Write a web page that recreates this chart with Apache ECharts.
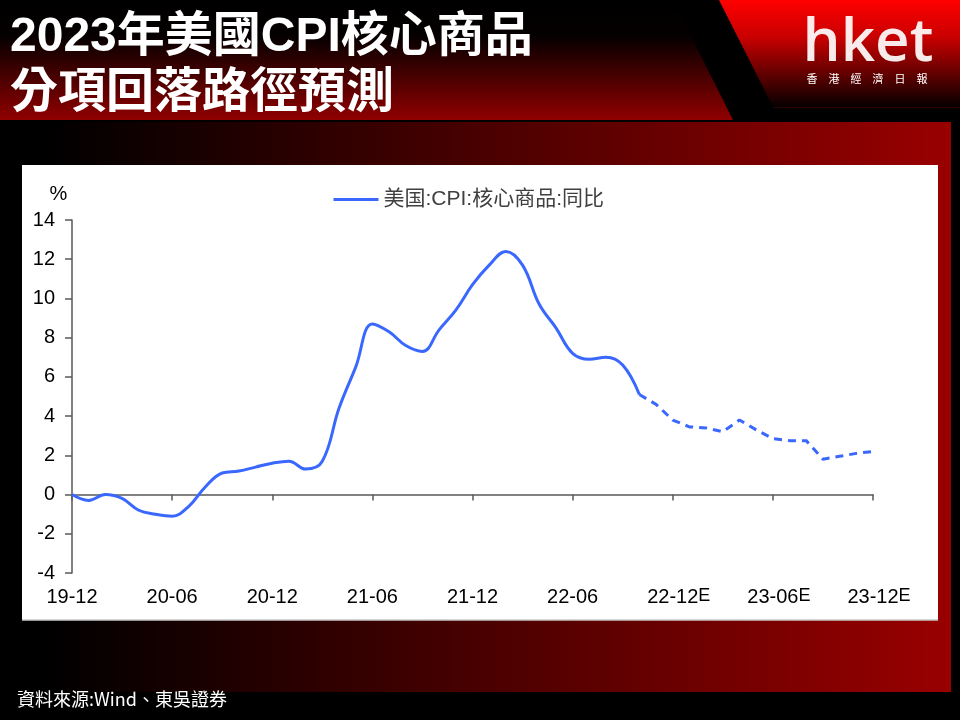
<!DOCTYPE html>
<html>
<head>
<meta charset="utf-8">
<script src="https://cdn.jsdelivr.net/npm/echarts@6/dist/echarts.min.js"></script>
<style>
html,body{margin:0;padding:0;background:#000;}
#c{width:960px;height:720px;}
</style>
</head>
<body>
<div id="c"></div>
<script>
// ---------- data ----------
const months = [
  '19-12',
  '20-01','20-02','20-03','20-04','20-05','20-06','20-07','20-08','20-09','20-10','20-11','20-12',
  '21-01','21-02','21-03','21-04','21-05','21-06','21-07','21-08','21-09','21-10','21-11','21-12',
  '22-01','22-02','22-03','22-04','22-05','22-06','22-07','22-08','22-09','22-10','22-11','22-12',
  '23-01','23-02','23-03','23-04','23-05','23-06','23-07','23-08','23-09','23-10','23-11','23-12'
];
// actual: 19-12 .. 22-10
const actualValues = [
  0.0,
  -0.3, 0.0, -0.2, -0.8, -1.0, -1.1, -0.6, 0.4, 1.1, 1.2, 1.4, 1.6,
  1.7, 1.3, 1.7, 4.4, 6.5, 8.7, 8.3, 7.6, 7.3, 8.4, 9.4, 10.7,
  11.7, 12.4, 11.7, 9.7, 8.5, 7.2, 6.9, 7.0, 6.6, 5.1
];
// forecast: 22-10 .. 23-12
const forecastMonths = ['22-10','22-11','22-12','23-01','23-02','23-03','23-04','23-05','23-06','23-07','23-08','23-09','23-10','23-11','23-12'];
const forecastValues = [5.1, 4.6, 3.8, 3.45, 3.4, 3.2, 3.8, 3.3, 2.85, 2.75, 2.75, 1.8, 1.95, 2.1, 2.2];
const estimateLabels = ['22-12','23-06','23-12'];
const titleLines = ['2023年美國CPI核心商品', '分項回落路徑預測'];
const seriesName = '美国:CPI:核心商品:同比';
const yUnit = '%';
const sourceText = '資料來源:Wind、東吳證券';
const logoText = 'hket';
const logoSub = '香　港　經　濟　日　報';

// ---------- chart ----------
const chart = echarts.init(document.getElementById('c'));
const LAT = "'Liberation Sans', Arial, 'Noto Sans CJK SC', sans-serif";
const CJK = "'Liberation Sans', 'Noto Sans CJK TC', sans-serif";
const blue = '#3a68ff';
const axisGrey = '#595959';

const option = {
  backgroundColor: '#000',
  animation: false,
  title: {
    text: titleLines.join('\n'),
    left: 5,
    top: 5,
    textStyle: {
      color: '#fff', fontSize: 48, fontWeight: 'bold', lineHeight: 56,
      fontFamily: CJK
    }
  },
  graphic: [
    // header left
    { type: 'polygon', z: 0, shape: { points: [[0,0],[673,0],[733,120],[0,120]] },
      style: { fill: new echarts.graphic.LinearGradient(0,0,0,1,[
        {offset:0,color:'#000'},{offset:0.3,color:'#050000'},{offset:1,color:'#900000'}]) } },
    // header right (logo background)
    { type: 'polygon', z: 0, shape: { points: [[719,0],[960,0],[960,107],[773,107]] },
      style: { fill: new echarts.graphic.LinearGradient(0,0,0,1,[
        {offset:0,color:'#ff0000'},{offset:0.35,color:'#c80000'},{offset:1,color:'#050000'}]) } },
    { type: 'line', z: 0, shape: { x1: 773, y1: 107.5, x2: 960, y2: 107.5 },
      style: { stroke: '#2a0000', lineWidth: 1 } },
    // main panel gradient
    { type: 'rect', z: 0, shape: { x: 0, y: 122, width: 951, height: 570 },
      style: { fill: new echarts.graphic.LinearGradient(0,0,1,0,[
        {offset:0,color:'#000'},{offset:0.05,color:'#000'},{offset:1,color:'#990000'}]) } },
    // white chart panel
    { type: 'rect', z: 0, shape: { x: 22, y: 165, width: 916, height: 455 },
      style: { fill: '#fff' } },
    { type: 'line', z: 0, shape: { x1: 22, y1: 620, x2: 938, y2: 620 },
      style: { stroke: '#c8c8c8', lineWidth: 1.5 } },
    // logo
    { type: 'text', z: 1, x: 868, y: 44,
      style: { text: logoText, fill: 'rgba(255,255,255,0.92)', font: "600 60px 'Open Sans', sans-serif",
        textAlign: 'center', textVerticalAlign: 'middle' } },
    { type: 'text', z: 1, x: 867, y: 79,
      style: { text: logoSub, fill: '#fff', font: "11px 'Noto Sans CJK TC', sans-serif",
        textAlign: 'center', textVerticalAlign: 'middle' } },
    // source
    { type: 'text', z: 1, x: 17, y: 699,
      style: { text: sourceText, fill: '#fff', font: "18px 'Noto Sans CJK TC', sans-serif",
        textAlign: 'left', textVerticalAlign: 'middle' } }
  ],
  legend: {
    data: [seriesName],
    left: 332,
    top: 189,
    padding: 0,
    itemWidth: 45,
    itemHeight: 14,
    itemGap: 6,
    itemStyle: { opacity: 0 },
    lineStyle: { color: blue, width: 3 },
    textStyle: { fontSize: 21, color: '#404040', fontFamily: LAT }
  },
  grid: { left: 72, right: 87, top: 220, bottom: 147, containLabel: false },
  xAxis: [
    {
      type: 'category', data: months, boundaryGap: false, position: 'bottom',
      axisLine: { onZero: true, lineStyle: { color: axisGrey, width: 1.5 } },
      axisTick: { show: true, interval: 5, length: 6, lineStyle: { color: axisGrey, width: 1.5 } },
      axisLabel: { show: false },
      splitLine: { show: false }
    },
    {
      type: 'category', data: months, boundaryGap: false, position: 'bottom',
      axisLine: { show: false, onZero: false },
      axisTick: { show: false },
      splitLine: { show: false },
      axisLabel: {
        interval: 5, margin: 14, color: '#000', fontSize: 20, fontFamily: LAT,
        formatter: function (v) {
          if (estimateLabels.indexOf(v) >= 0) return '{s|E}{n|' + v + '}{e|E}';
          return '{n|' + v + '}';
        },
        rich: {
          n: { fontSize: 20, color: '#000', fontFamily: LAT },
          s: { fontSize: 18, color: 'rgba(0,0,0,0)', fontFamily: LAT, verticalAlign: 'top' },
          e: { fontSize: 18, color: '#000', fontFamily: LAT, verticalAlign: 'top' }
        }
      }
    }
  ],
  yAxis: {
    type: 'value', min: -4, max: 14, interval: 2,
    name: yUnit, nameLocation: 'end', nameGap: 16,
    nameTextStyle: { fontSize: 20, color: '#000', fontFamily: LAT, padding: [0, 27, 0, 0] },
    axisLine: { show: true, lineStyle: { color: axisGrey, width: 1.5 } },
    axisTick: { show: true, length: 7, lineStyle: { color: axisGrey, width: 1.5 } },
    axisLabel: { color: '#000', fontSize: 20, margin: 17, fontFamily: LAT },
    splitLine: { show: false }
  },
  series: [
    {
      name: seriesName, type: 'line', xAxisIndex: 0,
      data: actualValues.map((v, i) => [months[i], v]),
      smooth: 0.4, symbol: 'none', showSymbol: false,
      lineStyle: { color: blue, width: 3 }, itemStyle: { color: blue }
    },
    {
      name: seriesName, type: 'line', xAxisIndex: 0,
      data: forecastValues.map((v, i) => [forecastMonths[i], v]),
      smooth: false, symbol: 'none', showSymbol: false,
      lineStyle: { color: blue, width: 3, type: [8, 6] }, itemStyle: { color: blue }
    }
  ]
};
chart.setOption(option);
</script>
</body>
</html>
